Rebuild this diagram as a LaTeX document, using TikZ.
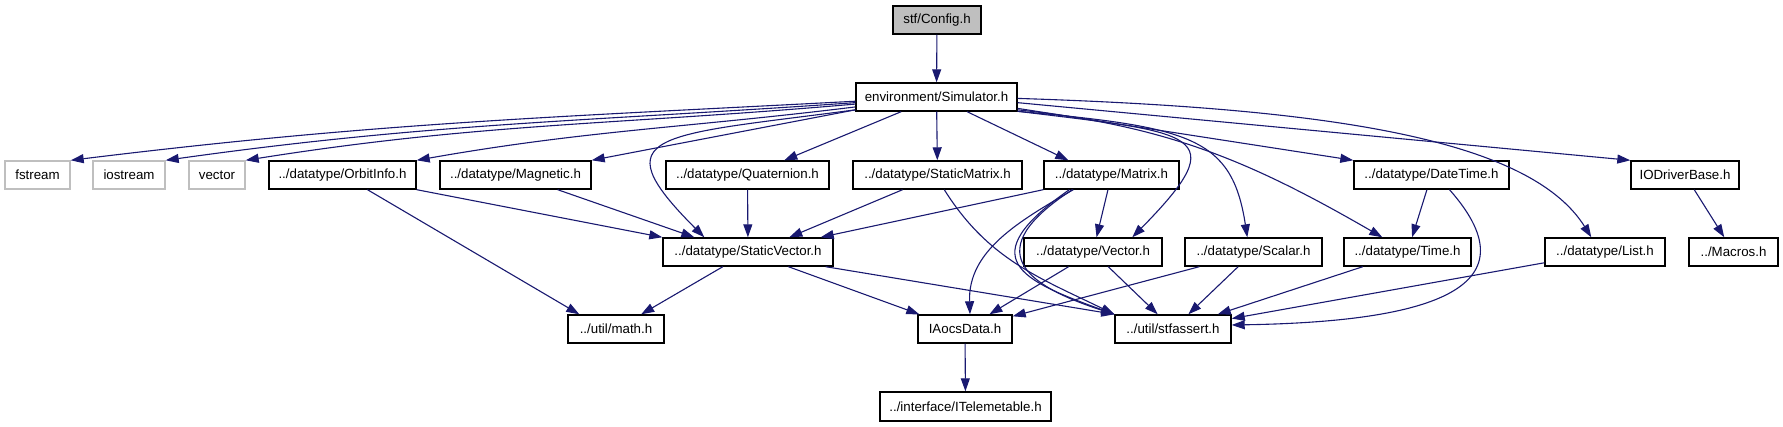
\documentclass[tikz,border=0pt]{standalone}
\usepackage{fontspec}
\setmainfont{Liberation Sans}
\usetikzlibrary{arrows.meta,calc}
\definecolor{edgec}{RGB}{25,25,112}
\definecolor{grayb}{RGB}{191,191,191}
\begin{document}
\begin{tikzpicture}[x=1pt,y=1pt,
  box/.style={draw=black,line width=1.4pt,minimum height=28pt,inner sep=0pt,
    font=\fontsize{13.3}{15}\selectfont,fill=white},
  ext/.style={box,draw=grayb},
  edge/.style={draw=edgec,line width=1.1pt,-{Triangle[length=13pt,width=9pt]}},
]
\useasboundingbox (0,0) rectangle (1783,427);
% row 1-2
\node[box,fill=grayb,minimum width=88] (config) at (937,407) {stf/Config.h};
\node[box,minimum width=161] (sim) at (936.5,330) {environment/Simulator.h};
% row 3
\node[ext,minimum width=65] (fstream) at (37.5,252) {fstream};
\node[ext,minimum width=72] (iostream) at (129,252) {iostream};
\node[ext,minimum width=56] (vector) at (217,252) {vector};
\node[box,minimum width=147] (orbit) at (342.5,252) {../datatype/OrbitInfo.h};
\node[box,minimum width=151] (magnetic) at (515.5,252) {../datatype/Magnetic.h};
\node[box,minimum width=163] (quat) at (747.5,252) {../datatype/Quaternion.h};
\node[box,minimum width=169] (smatrix) at (937.5,252) {../datatype/StaticMatrix.h};
\node[box,minimum width=135] (matrix) at (1111.5,252) {../datatype/Matrix.h};
\node[box,minimum width=155] (datetime) at (1431.5,252) {../datatype/DateTime.h};
\node[box,minimum width=108] (iodriver) at (1685,252) {IODriverBase.h};
% row 4
\node[box,minimum width=170] (svector) at (748,175) {../datatype/StaticVector.h};
\node[box,minimum width=138] (vec) at (1093,175) {../datatype/Vector.h};
\node[box,minimum width=137] (scalar) at (1253.5,175) {../datatype/Scalar.h};
\node[box,minimum width=127] (time) at (1407.5,175) {../datatype/Time.h};
\node[box,minimum width=120] (list) at (1605,175) {../datatype/List.h};
\node[box,minimum width=89] (macros) at (1733.5,175) {../Macros.h};
% row 5
\node[box,minimum width=96] (math) at (616,98) {../util/math.h};
\node[box,minimum width=94] (iaocs) at (965,98) {IAocsData.h};
\node[box,minimum width=116] (stfassert) at (1173,98) {../util/stfassert.h};
% row 6
\node[box,minimum width=171,minimum height=29] (itele) at (965.5,20.5) {../interface/ITelemetable.h};

% edges from Config / Simulator
\draw[edge] (config) -- (sim);
\draw[edge] (sim) to[out=183,in=7] (fstream.north east);
\draw[edge] (sim) to[out=184,in=8] (iostream.north east);
\draw[edge] (sim) to[out=185,in=9] (vector.north east);
\draw[edge] (sim) to[out=187,in=10] (orbit.north east);
\draw[edge] (sim.189) -- (magnetic.north east);
\draw[edge] (sim.189) .. controls (658,291) and (599,295) .. ($(svector.north west)+(42,0)$);
\draw[edge] (sim) -- ($(quat.north west)+(119,0)$);
\draw[edge] (sim) -- (smatrix);
\draw[edge] (sim) -- ($(matrix.north west)+(25,0)$);
\draw[edge] (sim.-10) .. controls (1195,294) and (1236,295) .. ($(vec.north west)+(109,0)$);
\draw[edge] (sim.-10) .. controls (1190,300) and (1232,290) .. ($(scalar.north west)+(63,0)$);
\draw[edge] (sim.-9) to[out=-6,in=150] ($(time.north west)+(39,0)$);
\draw[edge] (sim.-8) -- (datetime.north west);
\draw[edge] (sim.-1) .. controls (1317,319) and (1528,291) .. ($(list.north west)+(47,0)$);
\draw[edge] (sim.-4) -- (iodriver.north west);

% row 3 edges
\draw[edge] (orbit) -- ($(math.north west)+(12,0)$);
\draw[edge] (orbit.south east) -- (svector.north west);
\draw[edge] (magnetic) -- ($(svector.north west)+(32,0)$);
\draw[edge] (quat) -- (svector);
\draw[edge] (smatrix) -- ($(svector.north west)+(127,0)$);
\draw[edge] ($(smatrix.south west)+(92,0)$) to[out=-58,in=154] (stfassert.north west);
\draw[edge] (matrix.south west) -- ($(svector.north east)+(-13,0)$);
\draw[edge] (matrix) -- (vec);
\draw[edge] ($(matrix.south west)+(30,0)$) to[out=210,in=92] ($(iaocs.north)+(5,0)$);
\draw[edge] ($(matrix.south west)+(26,0)$) .. controls +(215:120) and +(160:100) .. (stfassert.north west);
\draw[edge] ($(matrix.south west)+(29,0)$) .. controls +(213:112) and +(162:95) .. (stfassert.north west);
\draw[edge] (datetime) -- (time);
\draw[edge] ($(datetime.south)+(18,0)$) .. controls (1540,135) and (1420,105) .. ($(stfassert.east)+(0,4)$);
\draw[edge] (iodriver) -- (macros);

% row 4 edges
\draw[edge] (svector) -- (math);
\draw[edge] (svector) -- ($(iaocs.north west)+(2,0)$);
\draw[edge] ($(svector.south east)+(-8,0)$) -- (stfassert.north west);
\draw[edge] (vec) -- (iaocs);
\draw[edge] (vec) -- (stfassert);
\draw[edge] ($(scalar.south west)+(15,0)$) -- ($(iaocs.north east)+(0,-2)$);
\draw[edge] (scalar) -- (stfassert);
\draw[edge] (time) -- (stfassert);
\draw[edge] (list) -- (stfassert);

% row 5 edges
\draw[edge] (iaocs) -- (itele);
\end{tikzpicture}
\end{document}
